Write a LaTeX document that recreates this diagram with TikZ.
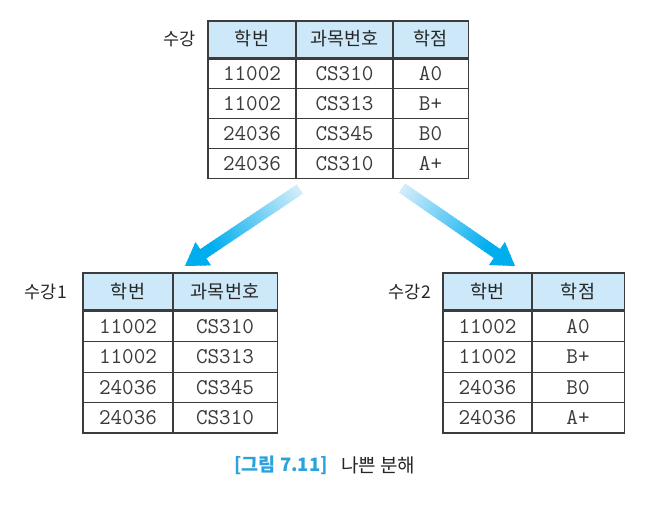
\documentclass[tikz,border=0pt]{standalone}
\usepackage{fontspec}
\newfontfamily\kr{Noto Sans CJK KR}
\definecolor{hdrfill}{HTML}{CDE9F9}
\definecolor{rule}{HTML}{3C3C3C}
\definecolor{datatext}{HTML}{3A3A3A}
\definecolor{arrowstart}{HTML}{D2ECFA}
\definecolor{arrowend}{HTML}{00AEEF}
\definecolor{capblue}{HTML}{2AA3DC}
\tikzset{
  cellbox/.style={draw=rule, line width=0.8pt, inner sep=0pt, anchor=center},
  hdr/.style={cellbox, fill=hdrfill, text=black!85, font=\kr\fontsize{18.5}{18.5}\selectfont},
  dat/.style={cellbox, text=datatext, font=\ttfamily\fontsize{22.5}{22.5}\selectfont},
  tlabel/.style={anchor=east, inner sep=0pt, text=black!85, font=\kr\fontsize{17.5}{17.5}\selectfont},
  outer/.style={draw=rule, line width=1.2pt},
  thickrule/.style={draw=rule, line width=1.7pt},
  thinrule/.style={draw=rule, line width=0.8pt}
}
% arrow drawn from start coordinate #1, rotated by #2, length #3
\newcommand\gradarrow[3]{%
  \begin{scope}[shift={(#1)}, rotate=#2]
    \begin{scope}
      \clip (0,-5.5) -- (#3-22,-5.5) -- (#3-22,-14) -- (#3,0) -- (#3-22,14) -- (#3-22,5.5) -- (0,5.5) -- cycle;
      \foreach \i in {0,...,39}{
        \pgfmathsetmacro\p{min(100,100*\i/30)}
        \fill[arrowend!\p!arrowstart] ({\i*#3/40},-16) rectangle ({(\i+1.3)*#3/40},16);
      }
    \end{scope}
  \end{scope}}
\begin{document}
\begin{tikzpicture}[x=1pt,y=-1pt]
\useasboundingbox (0,0) rectangle (659,504);
\fill[white] (0,0) rectangle (659,504);

% ---------- top table 수강 ----------
\node[tlabel] (lbT) at (196,39) {수강};
\node[hdr, minimum width=88, minimum height=36] (T-h1) at (252,39) {학번};
\node[hdr, minimum width=97, minimum height=36] (T-h2) at (344.5,39) {과목번호};
\node[hdr, minimum width=75, minimum height=36] (T-h3) at (430.5,39) {학점};
\foreach \r/\y/\a/\b/\c in {1/73.9/11002/CS310/A0, 2/103.7/11002/CS313/B+, 3/133.5/24036/CS345/B0, 4/163.3/24036/CS310/A+}{
  \node[dat, minimum width=88, minimum height=29.8] (T-d\r1) at (252,\y) {\a};
  \node[dat, minimum width=97, minimum height=29.8] (T-d\r2) at (344.5,\y) {\b};
  \node[dat, minimum width=75, minimum height=29.8] (T-d\r3) at (430.5,\y) {\c};
}
\draw[thickrule] (T-h1.south west) -- (T-h3.south east);
\draw[thinrule] (T-d11.north west) -- (T-d13.north east);
\draw[thinrule] (T-h2.north west) -- (T-d42.south west);
\draw[thinrule] (T-h3.north west) -- (T-d43.south west);
\draw[outer] (T-h1.north west) rectangle (T-d43.south east);

% ---------- left table 수강1 ----------
\node[tlabel] (lbL) at (67,292) {수강1};
\node[hdr, minimum width=90, minimum height=36.5] (L-h1) at (128,291.25) {학번};
\node[hdr, minimum width=104, minimum height=36.5] (L-h2) at (225,291.25) {과목번호};
\foreach \r/\y/\a/\b in {1/326.65/11002/CS310, 2/356.95/11002/CS313, 3/387.25/24036/CS345, 4/417.55/24036/CS310}{
  \node[dat, minimum width=90, minimum height=30.3] (L-d\r1) at (128,\y) {\a};
  \node[dat, minimum width=104, minimum height=30.3] (L-d\r2) at (225,\y) {\b};
}
\draw[thickrule] (L-h1.south west) -- (L-h2.south east);
\draw[thinrule] (L-d11.north west) -- (L-d12.north east);
\draw[thinrule] (L-h2.north west) -- (L-d42.south west);
\draw[outer] (L-h1.north west) rectangle (L-d42.south east);

% ---------- right table 수강2 ----------
\node[tlabel] (lbR) at (431,292) {수강2};
\node[hdr, minimum width=89, minimum height=36.5] (R-h1) at (487.5,291.25) {학번};
\node[hdr, minimum width=92, minimum height=36.5] (R-h2) at (578,291.25) {학점};
\foreach \r/\y/\a/\b in {1/326.65/11002/A0, 2/356.95/11002/B+, 3/387.25/24036/B0, 4/417.55/24036/A+}{
  \node[dat, minimum width=89, minimum height=30.3] (R-d\r1) at (487.5,\y) {\a};
  \node[dat, minimum width=92, minimum height=30.3] (R-d\r2) at (578,\y) {\b};
}
\draw[thickrule] (R-h1.south west) -- (R-h2.south east);
\draw[thinrule] (R-d11.north west) -- (R-d12.north east);
\draw[thinrule] (R-h2.north west) -- (R-d42.south west);
\draw[outer] (R-h1.north west) rectangle (R-d42.south east);

% ---------- arrows ----------
\coordinate (aLs) at (300,189);
\coordinate (aRs) at (402,188);
\gradarrow{aLs}{213.8}{138.4}
\gradarrow{aRs}{-34.6}{137.3}

% ---------- caption ----------
\node[anchor=east, inner sep=0pt, text=capblue, font=\kr\bfseries\fontsize{18.5}{18.5}\selectfont] (cap1) at (328,465) {[그림 7.11]};
\node[anchor=west, inner sep=0pt, text=black!85, font=\kr\fontsize{19}{19}\selectfont] (cap2) at (341,465) {나쁜 분해};
\end{tikzpicture}
\end{document}
